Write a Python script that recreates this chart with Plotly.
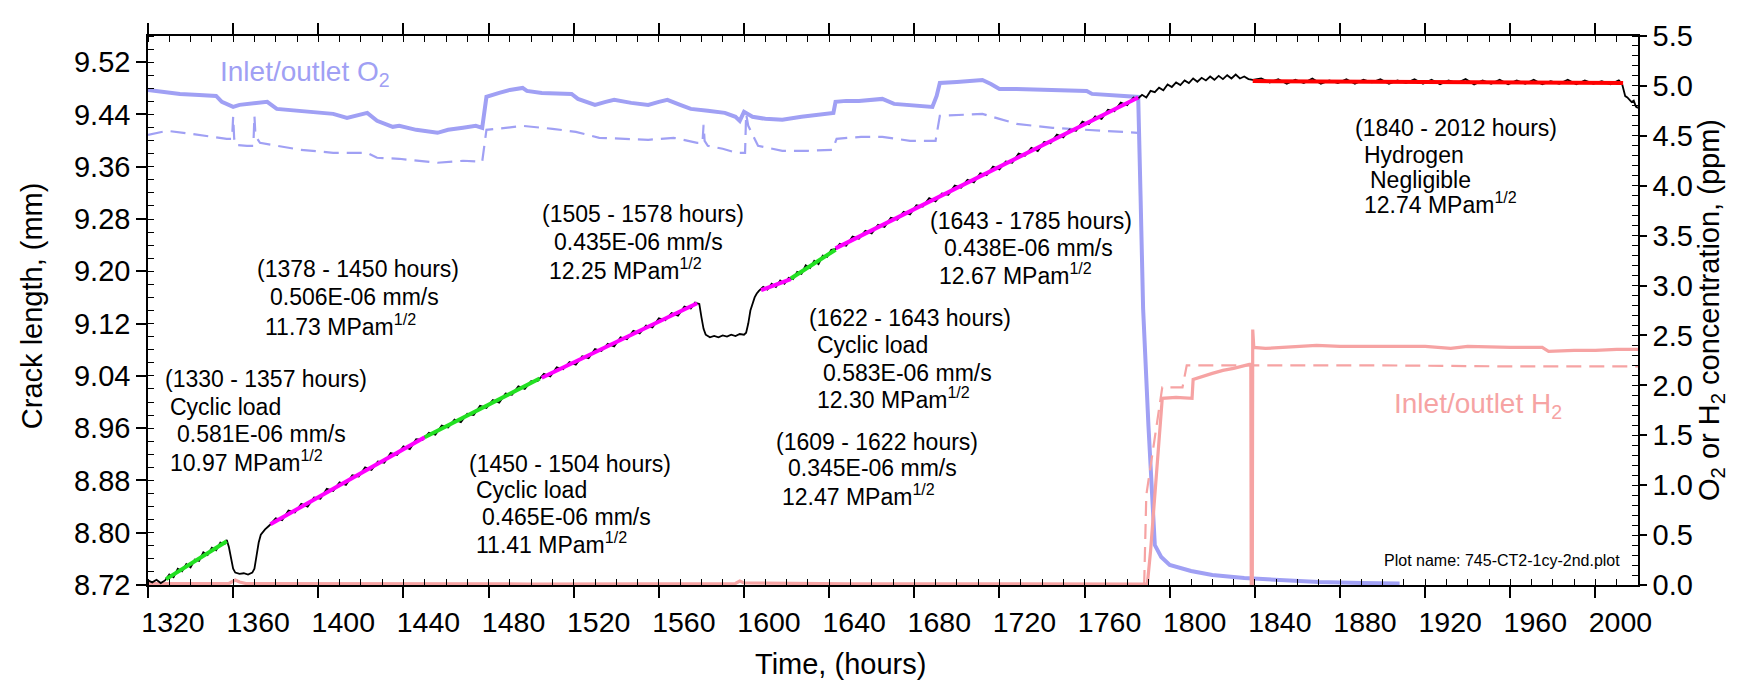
import plotly.graph_objects as go

# ---------------- data ----------------
crack_hours = [1320, 1322, 1324, 1326, 1328,
               1330, 1332, 1334, 1336, 1338, 1340, 1342, 1344, 1346, 1348, 1350, 1352, 1354, 1356, 1357,
               1358, 1359, 1360, 1361, 1363, 1365, 1367, 1369, 1370, 1371, 1372, 1373, 1375, 1377,
               1380, 1383, 1386, 1389, 1392, 1395, 1398, 1401, 1404, 1407, 1410, 1413, 1416, 1419, 1422,
               1425, 1428, 1431, 1434, 1437, 1440, 1443, 1446, 1449,
               1452, 1455, 1458, 1461, 1464, 1467, 1470, 1473, 1476, 1479, 1482, 1485, 1488, 1491, 1494,
               1497, 1500, 1503,
               1506, 1509, 1512, 1515, 1518, 1521, 1524, 1527, 1530, 1533, 1536, 1539, 1542, 1545, 1548,
               1551, 1554, 1557, 1560, 1563, 1566, 1569, 1572, 1575, 1577,
               1578, 1579, 1580, 1581, 1582, 1584, 1586, 1588, 1590, 1592, 1594, 1596, 1598, 1600, 1601,
               1602, 1603, 1604, 1605, 1606, 1607,
               1609, 1611, 1613, 1615, 1617, 1619, 1621,
               1623, 1625, 1627, 1629, 1631, 1633, 1635, 1637, 1639, 1641, 1643,
               1645, 1648, 1651, 1654, 1657, 1660, 1663, 1666, 1669, 1672, 1675, 1678, 1681, 1684, 1687,
               1690, 1693, 1696, 1699, 1702, 1705, 1708, 1711, 1714, 1717, 1720, 1723, 1726, 1729, 1732,
               1735, 1738, 1741, 1744, 1747, 1750, 1753, 1756, 1759, 1762, 1765, 1768, 1771, 1774, 1777,
               1780, 1783, 1785,
               1787, 1789, 1791, 1793, 1795, 1797, 1799, 1801, 1803, 1805, 1807, 1809, 1811, 1813, 1815,
               1817, 1819, 1821, 1823, 1825, 1827, 1829, 1831, 1833, 1835, 1837, 1839,
               1843, 1847, 1851, 1855, 1859, 1863, 1867, 1871, 1875, 1879, 1883, 1887, 1891, 1895, 1899,
               1903, 1907, 1911, 1915, 1919, 1923, 1927, 1931, 1935, 1939, 1943, 1947, 1951, 1955, 1959,
               1963, 1967, 1971, 1975, 1979, 1983, 1987, 1991, 1995, 1999, 2003, 2007, 2011, 2012.5,
               2013, 2014, 2015, 2016, 2017, 2018, 2019, 2020]
crack_mm = [8.727, 8.724, 8.728, 8.723, 8.727,
            8.736, 8.732, 8.745, 8.741, 8.752, 8.747, 8.759, 8.757, 8.770, 8.766, 8.777, 8.773, 8.785, 8.783, 8.789,
            8.778, 8.760, 8.745, 8.739, 8.737, 8.738, 8.736, 8.739, 8.745, 8.765, 8.785, 8.797, 8.805, 8.811,
            8.822, 8.819, 8.834, 8.831, 8.844, 8.840, 8.854, 8.852, 8.867, 8.864, 8.877, 8.873, 8.888, 8.886, 8.900,
            8.896, 8.909, 8.907, 8.922, 8.919, 8.932, 8.928, 8.943, 8.942,
            8.953, 8.950, 8.964, 8.961, 8.973, 8.969, 8.982, 8.980, 8.994, 8.991, 9.003, 8.999, 9.013, 9.011, 9.024,
            9.020, 9.032, 9.032,
            9.043, 9.039, 9.053, 9.050, 9.061, 9.057, 9.070, 9.067, 9.081, 9.078, 9.089, 9.085, 9.099, 9.096, 9.109,
            9.105, 9.117, 9.114, 9.128, 9.125, 9.136, 9.132, 9.146, 9.143, 9.152,
            9.151, 9.150, 9.130, 9.112, 9.103, 9.099, 9.101, 9.099, 9.102, 9.100, 9.103, 9.101, 9.104, 9.103, 9.106,
            9.120, 9.140, 9.152, 9.160, 9.166, 9.170,
            9.176, 9.172, 9.181, 9.176, 9.186, 9.181, 9.190,
            9.188, 9.199, 9.196, 9.209, 9.205, 9.216, 9.211, 9.224, 9.222, 9.233, 9.234,
            9.242, 9.239, 9.253, 9.250, 9.262, 9.258, 9.271, 9.268, 9.282, 9.279, 9.291, 9.287, 9.301, 9.299, 9.312,
            9.307, 9.319, 9.317, 9.331, 9.328, 9.340, 9.336, 9.350, 9.347, 9.360, 9.356, 9.368, 9.366, 9.380, 9.377,
            9.389, 9.384, 9.398, 9.396, 9.409, 9.405, 9.417, 9.415, 9.429, 9.425, 9.437, 9.433, 9.447, 9.445, 9.458,
            9.454, 9.466, 9.464,
            9.470, 9.466, 9.476, 9.474, 9.481, 9.477, 9.486, 9.482, 9.489, 9.485, 9.492, 9.488, 9.495, 9.490, 9.496,
            9.492, 9.498, 9.493, 9.499, 9.494, 9.500, 9.495, 9.501, 9.495, 9.498, 9.494, 9.493,
            9.495, 9.489, 9.494, 9.487, 9.493, 9.488, 9.495, 9.487, 9.492, 9.488, 9.494, 9.487, 9.493, 9.489, 9.494,
            9.487, 9.492, 9.488, 9.494, 9.487, 9.493, 9.486, 9.492, 9.488, 9.494, 9.486, 9.492, 9.487, 9.493, 9.486,
            9.492, 9.487, 9.493, 9.486, 9.491, 9.487, 9.493, 9.486, 9.492, 9.487, 9.491, 9.486, 9.492, 9.487,
            9.480, 9.468, 9.466, 9.463, 9.459, 9.461, 9.452, 9.450]

# fitted segments: start hour, start mm, end hour, end mm
green_fits = [(1328.5, 8.729, 1357.0, 8.787), (1450.0, 8.946, 1504.0, 9.036), (1622.0, 9.189, 1643.0, 9.233)]
magenta_fits = [(1377.5, 8.813, 1450.0, 8.946), (1505.0, 9.037, 1578.0, 9.151),
                (1608.0, 9.171, 1622.0, 9.188), (1643.0, 9.235, 1785.2, 9.466)]
red_fits = [(1839.0, 9.491, 2013.0, 9.488)]

o2_solid_hours = [1320, 1327, 1335, 1344, 1352, 1354.7, 1360, 1363, 1369.5, 1376, 1380.5, 1391.5, 1400, 1407,
                  1413.5, 1418, 1423, 1427.6, 1435, 1438, 1446, 1456, 1461, 1468, 1474, 1477, 1478.5, 1479,
                  1485, 1490, 1496, 1498, 1505, 1512, 1519, 1522, 1526, 1530, 1535, 1539, 1547, 1555, 1560,
                  1564, 1570, 1575, 1583, 1591, 1596, 1598, 1600, 1601, 1604, 1610, 1618, 1627, 1636, 1642,
                  1643, 1648, 1654, 1660, 1665, 1670.5, 1680, 1688.5, 1690.5, 1692, 1700, 1706, 1712, 1716,
                  1720, 1728, 1740, 1750, 1761, 1763.5, 1772, 1783, 1785.2, 1786.3, 1787.5, 1790, 1793, 1796,
                  1800, 1810, 1820, 1835, 1850, 1870, 1890, 1908]
o2_solid_ppm = [4.96, 4.94, 4.92, 4.91, 4.90, 4.84, 4.79, 4.81, 4.83, 4.84, 4.77, 4.75, 4.74, 4.72,
                4.68, 4.70, 4.73, 4.65, 4.59, 4.60, 4.56, 4.53, 4.56, 4.58, 4.60, 4.58, 4.80, 4.89,
                4.93, 4.96, 4.98, 4.95, 4.93, 4.93, 4.92, 4.87, 4.84, 4.81, 4.84, 4.86, 4.83, 4.81, 4.84,
                4.86, 4.81, 4.77, 4.75, 4.73, 4.69, 4.65, 4.74, 4.73, 4.69, 4.67, 4.66, 4.69, 4.72, 4.73,
                4.84, 4.85, 4.85, 4.86, 4.87, 4.82, 4.80, 4.79, 4.90, 5.03, 5.04, 5.05, 5.06, 5.02,
                4.97, 4.97, 4.96, 4.96, 4.95, 4.92, 4.91, 4.90, 4.89, 3.90, 2.77, 1.60, 0.40, 0.28,
                0.20, 0.14, 0.10, 0.07, 0.05, 0.03, 0.02, 0.015]

o2_dash_hours = [1320, 1329, 1340, 1350, 1357, 1359.5, 1360, 1360.5, 1361, 1366.5, 1369.5, 1370, 1370.5,
                 1372.6, 1380.5, 1391.5, 1407, 1423, 1427.6, 1438, 1456, 1468, 1477, 1479, 1488, 1496,
                 1510, 1521, 1532, 1545, 1555, 1567, 1578, 1580.5, 1581, 1581.5, 1583, 1590, 1596.6,
                 1600.5, 1601, 1602, 1606.6, 1618, 1630, 1641.6, 1643.5, 1655, 1665, 1678, 1690, 1692,
                 1712, 1720, 1728, 1745, 1762.7, 1775, 1785]
o2_dash_ppm = [4.51, 4.55, 4.52, 4.49, 4.47, 4.47, 4.69, 4.47, 4.41, 4.40, 4.40, 4.70, 4.50,
               4.43, 4.40, 4.36, 4.33, 4.33, 4.28, 4.27, 4.23, 4.25, 4.24, 4.56, 4.58, 4.60,
               4.57, 4.54, 4.48, 4.47, 4.46, 4.48, 4.43, 4.43, 4.61, 4.45, 4.40, 4.37, 4.33,
               4.33, 4.72, 4.60, 4.40, 4.35, 4.35, 4.36, 4.47, 4.49, 4.49, 4.45, 4.45, 4.70,
               4.72, 4.67, 4.62, 4.58, 4.56, 4.54, 4.53]

h2_solid_hours = [1320, 1340, 1358, 1361, 1363, 1366, 1400, 1450, 1500, 1550, 1596, 1598, 1600, 1650,
                  1700, 1750, 1789.5, 1791, 1796.5, 1803, 1810.5, 1811, 1815, 1820, 1825, 1830, 1837.4,
                  1838.1, 1838.3, 1838.8, 1839.0, 1839.5, 1845, 1855, 1869, 1880, 1900, 1920, 1932,
                  1940, 1960, 1975, 1978, 1990, 2000, 2010, 2020]
h2_solid_ppm = [0.015, 0.012, 0.015, 0.05, 0.03, 0.015, 0.012, 0.015, 0.01, 0.012, 0.015, 0.04, 0.02, 0.012,
                0.01, 0.012, 0.01, 0.34, 1.87, 1.88, 1.87, 2.06, 2.09, 2.12, 2.15, 2.17, 2.21,
                2.21, 0.0, 0.0, 2.56, 2.38, 2.37, 2.38, 2.40, 2.39, 2.39, 2.39, 2.37,
                2.39, 2.38, 2.38, 2.34, 2.35, 2.35, 2.36, 2.36]

h2_dash_hours = [1788, 1789, 1796.5, 1806, 1808, 1840, 1900, 1960, 2020]
h2_dash_ppm = [0.0, 0.9, 1.98, 1.98, 2.20, 2.20, 2.20, 2.19, 2.19]

x_ticks = list(range(1320, 2001, 40))

annotation_lines = [
    # text, left px, center y px (page pixels)
    ("(1330 - 1357 hours)", 163, 373), ("Cyclic load", 168, 402),
    ("0.581E-06 mm/s", 175, 430), ("10.97 MPam<sup>1/2</sup>", 168, 457),
    ("(1378 - 1450 hours)", 255, 260), ("0.506E-06 mm/s", 268, 289), ("11.73 MPam<sup>1/2</sup>", 263, 317),
    ("(1505 - 1578 hours)", 540, 203), ("0.435E-06 mm/s", 552, 232), ("12.25 MPam<sup>1/2</sup>", 547, 260),
    ("(1450 - 1504 hours)", 467, 460), ("Cyclic load", 474, 487),
    ("0.465E-06 mm/s", 480, 515), ("11.41 MPam<sup>1/2</sup>", 474, 542),
    ("(1643 - 1785 hours)", 928, 210), ("0.438E-06 mm/s", 942, 238), ("12.67 MPam<sup>1/2</sup>", 937, 265),
    ("(1622 - 1643 hours)", 807, 310), ("Cyclic load", 815, 338),
    ("0.583E-06 mm/s", 821, 367), ("12.30 MPam<sup>1/2</sup>", 815, 393),
    ("(1609 - 1622 hours)", 774, 438), ("0.345E-06 mm/s", 786, 465), ("12.47 MPam<sup>1/2</sup>", 780, 492),
    ("(1840 - 2012 hours)", 1353, 115), ("Hydrogen", 1362, 142),
    ("Negligible", 1368, 168), ("12.74 MPam<sup>1/2</sup>", 1362, 192),
]

# ---------------- layout constants ----------------
W, H = 1742, 686
PAGE_OFFSET = 8          # default <body> margin of the written page
PL, PR, PT, PB = 148, 1638, 20, 585   # plot-area edges in page pixels
FONT = "Liberation Sans, Arial, Helvetica, sans-serif"
O2_COLOR = "#a0a0f4"
H2_COLOR = "#f6a3a3"
DASH = "15px,8px"


def px(x):
    return (x - PL) / (PR - PL)


def py(y):
    return (PB - y) / (PB - PT)


def seg_xy(segs):
    xs, ys = [], []
    for x0, y0, x1, y1 in segs:
        xs += [x0, x1, None]
        ys += [y0, y1, None]
    return xs, ys


fig = go.Figure()

# concentration traces (base y axis, right side)
fig.add_trace(go.Scatter(x=o2_dash_hours, y=o2_dash_ppm, mode="lines", yaxis="y",
                         line=dict(color=O2_COLOR, width=2.2, dash=DASH)))
fig.add_trace(go.Scatter(x=o2_solid_hours, y=o2_solid_ppm, mode="lines", yaxis="y",
                         line=dict(color=O2_COLOR, width=4)))
fig.add_trace(go.Scatter(x=h2_dash_hours, y=h2_dash_ppm, mode="lines", yaxis="y",
                         line=dict(color=H2_COLOR, width=2.2, dash=DASH)))
fig.add_trace(go.Scatter(x=h2_solid_hours, y=h2_solid_ppm, mode="lines", yaxis="y",
                         line=dict(color=H2_COLOR, width=3.2)))

# crack length traces (overlay axis, left side)
fig.add_trace(go.Scatter(x=crack_hours, y=crack_mm, mode="lines", yaxis="y2",
                         line=dict(color="black", width=1.8)))
for segs, col in ((magenta_fits, "#ff00ff"), (green_fits, "#22e022"), (red_fits, "#ff0000")):
    xs, ys = seg_xy(segs)
    fig.add_trace(go.Scatter(x=xs, y=ys, mode="lines", yaxis="y2",
                             line=dict(color=col, width=4)))

annotations = []
for text, lx, cy in annotation_lines:
    annotations.append(dict(text=text, x=px(lx), y=py(cy), xref="paper", yref="paper",
                            xanchor="left", yanchor="middle", showarrow=False,
                            font=dict(family=FONT, size=23, color="black")))

annotations += [
    dict(text="Inlet/outlet O<sub>2</sub>", x=px(218), y=py(59), xref="paper", yref="paper",
         xanchor="left", yanchor="middle", showarrow=False,
         font=dict(family=FONT, size=28, color=O2_COLOR)),
    dict(text="Inlet/outlet H<sub>2</sub>", x=px(1392), y=py(400), xref="paper", yref="paper",
         xanchor="left", yanchor="middle", showarrow=False,
         font=dict(family=FONT, size=28, color=H2_COLOR)),
    dict(text="Plot name: 745-CT2-1cy-2nd.plot", x=px(1622), y=py(560), xref="paper", yref="paper",
         xanchor="right", yanchor="middle", showarrow=False,
         font=dict(family=FONT, size=16, color="black")),
    dict(text="Time, (hours)", x=px(840), y=py(685), xref="paper", yref="paper",
         xanchor="center", yanchor="bottom", showarrow=False,
         font=dict(family=FONT, size=29, color="black")),
    dict(text="Crack length, (mm)", x=px(32), y=py(298), xref="paper", yref="paper",
         xanchor="center", yanchor="middle", showarrow=False, textangle=-90,
         font=dict(family=FONT, size=29, color="black")),
    dict(text="O<sub>2</sub> or H<sub>2</sub> concentration, (ppm)", x=px(1711), y=py(302),
         xref="paper", yref="paper", xanchor="center", yanchor="middle", showarrow=False,
         textangle=-90, font=dict(family=FONT, size=29, color="black")),
]

fig.update_layout(
    width=W, height=H,
    margin=dict(l=PL - PAGE_OFFSET, r=W - (PR - PAGE_OFFSET),
                t=PT - PAGE_OFFSET, b=H - (PB - PAGE_OFFSET), pad=0),
    paper_bgcolor="white", plot_bgcolor="white",
    showlegend=False,
    font=dict(family=FONT, color="black"),
    annotations=annotations,
    xaxis=dict(range=[1320, 2020], tickvals=x_ticks, ticks="outside", ticklen=11, tickwidth=1.5,
               tickcolor="black", showline=True, linecolor="black", linewidth=1.5, mirror="ticks",
               showgrid=False, zeroline=False, ticklabelshift=25,
               tickfont=dict(family=FONT, size=28.5, color="black"),
               minor=dict(dtick=10, tick0=1320, ticks="inside", ticklen=6, tickwidth=1.2,
                          tickcolor="black", showgrid=False)),
    yaxis=dict(range=[0, 5.5], side="right", tick0=0, dtick=0.5, tickformat=".1f",
               ticks="outside", ticklen=7, tickwidth=1.5, tickcolor="black",
               showline=True, linecolor="black", linewidth=1.5, showgrid=False, zeroline=False,
               tickfont=dict(family=FONT, size=29, color="black"),
               minor=dict(dtick=0.1, tick0=0, ticks="inside", ticklen=6, tickwidth=1.2,
                          tickcolor="black", showgrid=False)),
    yaxis2=dict(range=[8.72, 9.56], side="left", overlaying="y", tick0=8.72, dtick=0.08,
                tickformat=".2f", ticks="outside", ticklen=10, tickwidth=1.5, tickcolor="black",
                showline=True, linecolor="black", linewidth=1.5, showgrid=False, zeroline=False,
                tickfont=dict(family=FONT, size=29, color="black"),
                minor=dict(dtick=0.02, tick0=8.72, ticks="inside", ticklen=6, tickwidth=1.2,
                           tickcolor="black", showgrid=False)),
)

fig.write_html("out.html")
